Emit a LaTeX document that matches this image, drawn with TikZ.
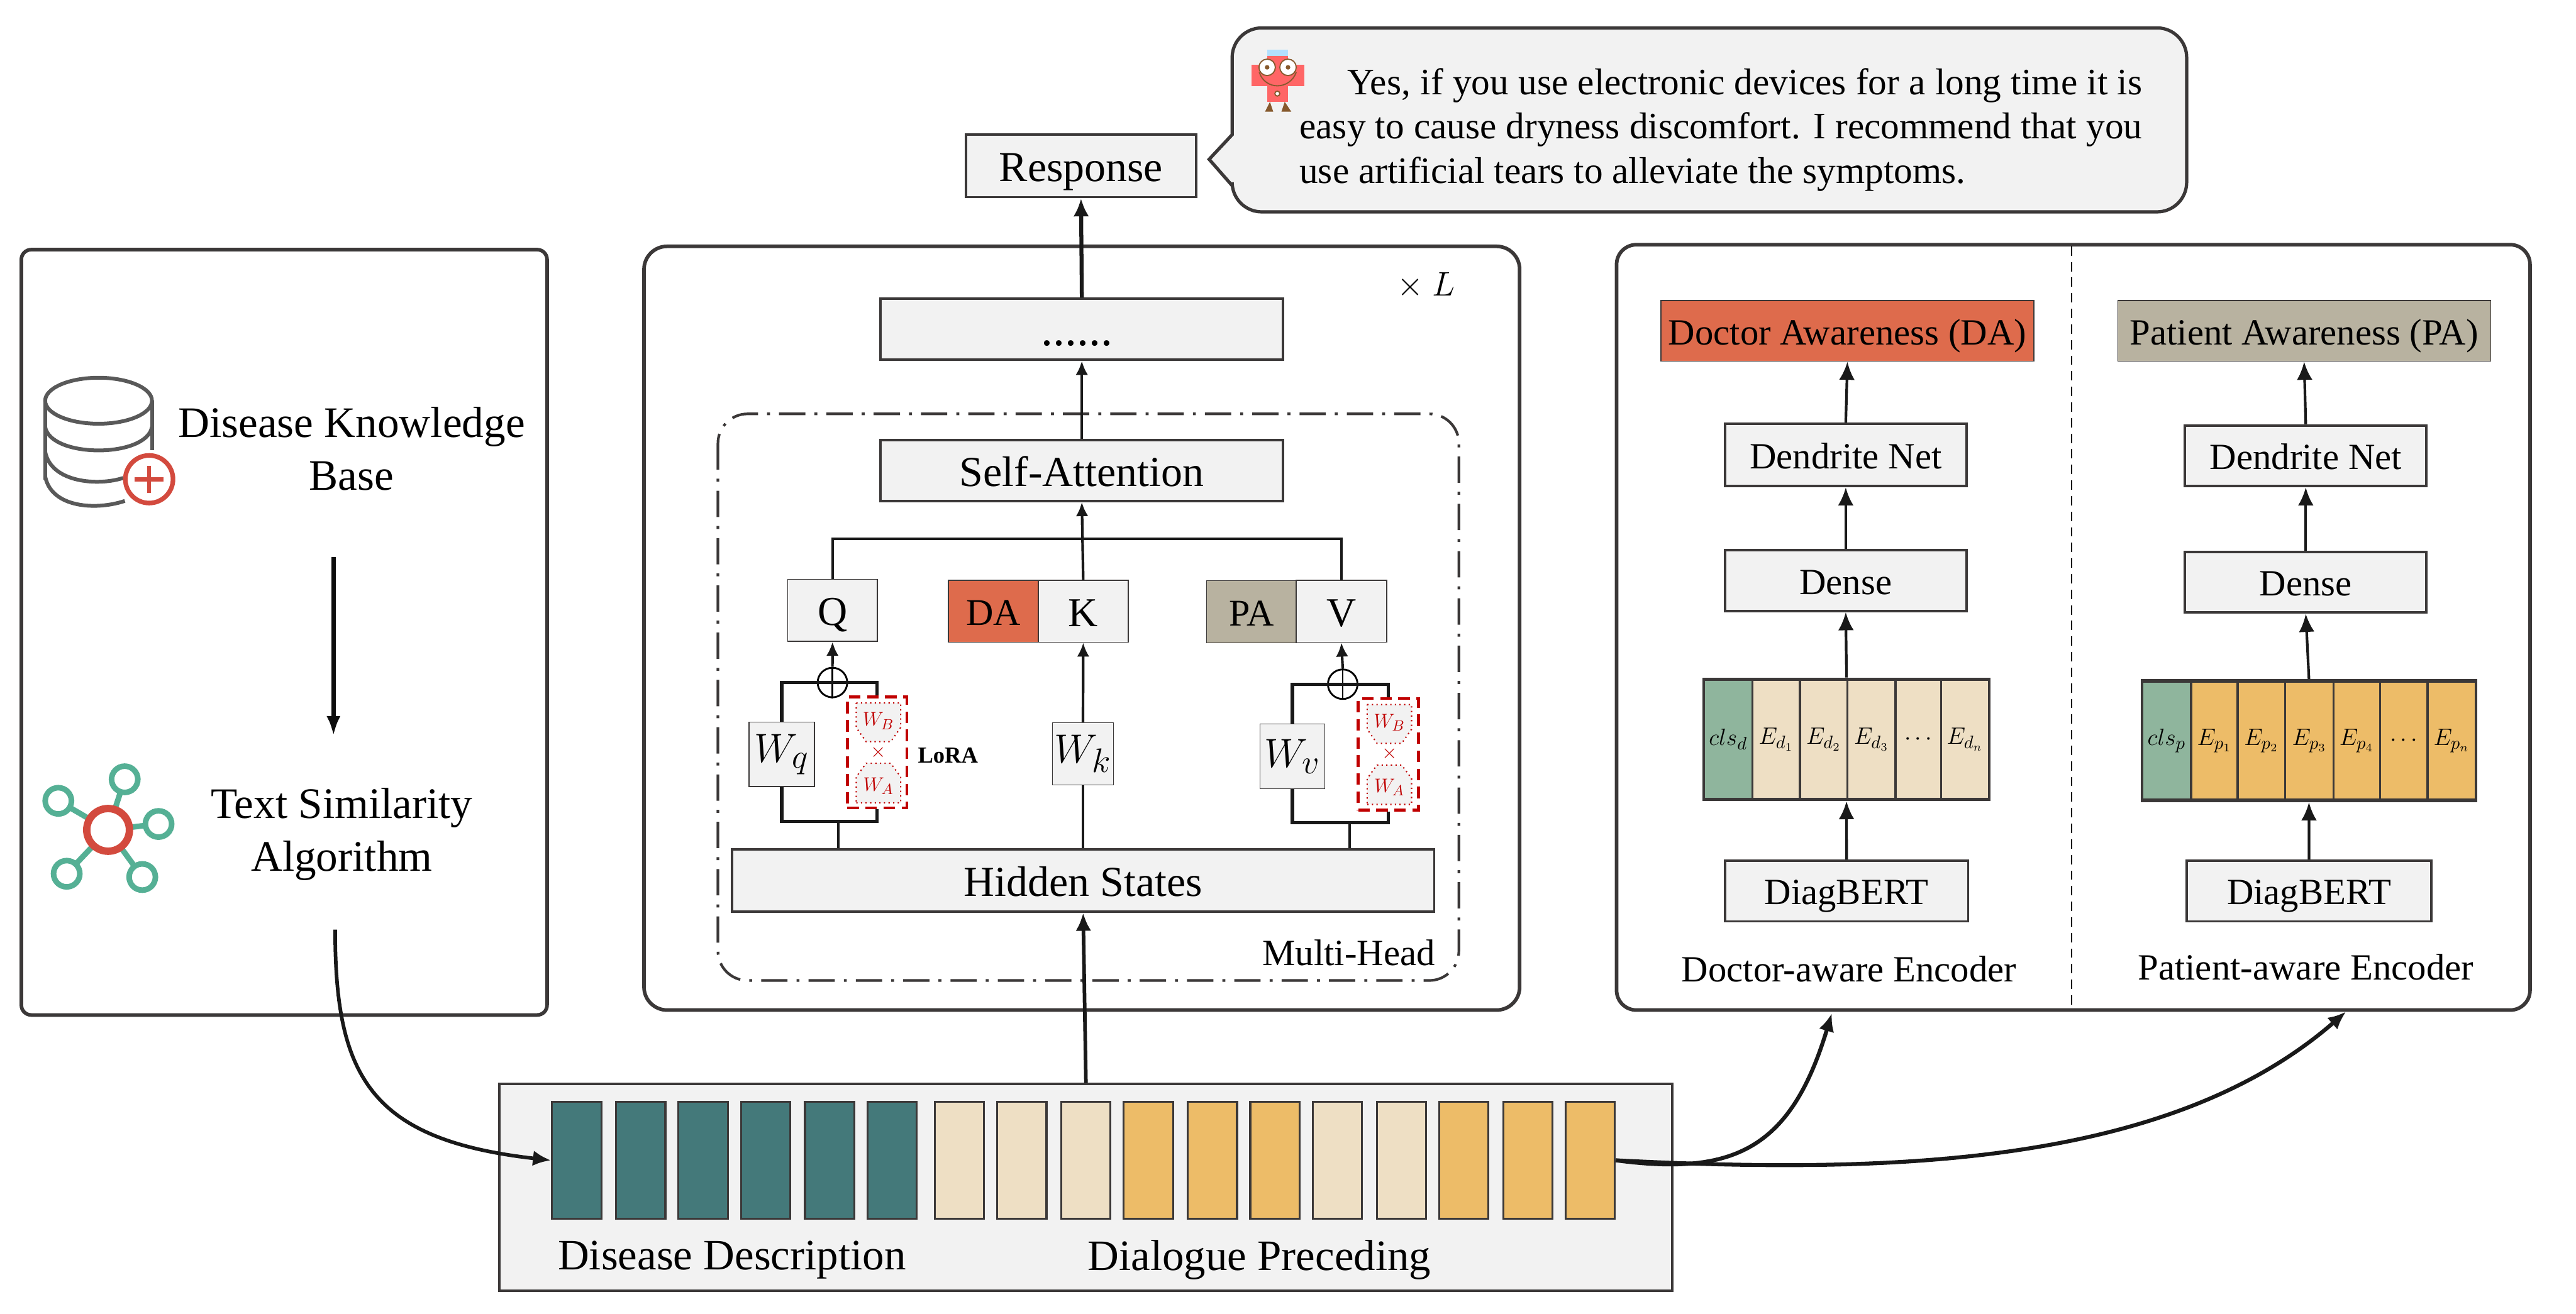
\documentclass[tikz,border=0pt]{standalone}
\usepackage{fontspec}
\setmainfont{Liberation Serif}
\usetikzlibrary{arrows.meta,calc,shapes.misc,positioning}
\definecolor{ln}{HTML}{3B3838}
\definecolor{bg}{HTML}{F2F2F2}
\definecolor{daC}{HTML}{DE6B4C}
\definecolor{paC}{HTML}{B8B2A0}
\definecolor{teal}{HTML}{44797A}
\definecolor{tan}{HTML}{EEDFC4}
\definecolor{org}{HTML}{EDBC68}
\definecolor{grn}{HTML}{8FB59D}
\definecolor{lred}{HTML}{C00000}
\definecolor{icr}{HTML}{D34A3E}
\definecolor{icg}{HTML}{55B095}
\definecolor{icd}{HTML}{595959}
\newcommand{\fs}[1]{\fontsize{#1}{#1}\selectfont}
\newcommand{\cen}[1]{\raisebox{0pt}[0.9em][0.16em]{#1}}
\tikzset{
  panel/.style={draw=ln,line width=2.2pt,fill=white},
  bx/.style={draw=ln,line width=1.5pt,fill=bg,inner sep=0pt,text=black},
  thinbx/.style={draw=ln,line width=0.6pt,fill=bg,inner sep=0pt,text=black},
  tok/.style={draw=ln,line width=1.3pt,inner sep=0pt,text=black},
  seqbar/.style={draw=ln,line width=1.2pt,inner sep=0pt},
  conn/.style={draw=black!90,line width=1.6pt},
  arr/.style={conn,-{Latex[length=8.5pt,width=7.5pt]}},
  arrb/.style={conn,-{Latex[length=11pt,width=9.5pt]}},
  lora/.style={draw=lred,line width=1.7pt,dash pattern=on 7pt off 4pt},
  inner/.style={draw=lred,line width=0.8pt,dotted,fill=bg},
  lab/.style={inner sep=0pt,text=black,align=center},
  oplusnode/.style={circle,draw=black,line width=1.1pt,minimum size=18pt,inner sep=0pt},
}
% \bxn{name}{x1}{y1}{x2}{y2}{style}{text}
\newcommand{\bxn}[7]{%
  \pgfmathsetmacro{\cxv}{(#2+#4)/2}\pgfmathsetmacro{\cyv}{(#3+#5)/2}%
  \pgfmathsetmacro{\wv}{#4-#2}\pgfmathsetmacro{\hv}{#5-#3}%
  \node[#6,minimum width=\wv pt,minimum height=\hv pt] (#1) at (\cxv,\cyv) {#7};}
\begin{document}
\begin{tikzpicture}[x=1pt,y=-1pt]
\useasboundingbox (0,0) rectangle (1568,800);
\fill[white] (0,0) rectangle (1568,800);
% panels
\draw[panel,rounded corners=6pt] (13,152) rectangle (333,618);
\draw[panel,rounded corners=14pt] (392,150) rectangle (925,615);
\draw[panel,rounded corners=12pt] (984,149) rectangle (1540,615);
\draw[draw=ln,line width=1.6pt,dash pattern=on 16pt off 5.5pt on 1.8pt off 5.5pt,rounded corners=18pt] (437,252) rectangle (888,597);
\draw[draw=black,line width=1pt,dash pattern=on 5.7pt off 3.8pt] (1261,150) -- (1261,612);
% left panel
\begin{scope}[draw=icd,line width=2.3pt]
  \draw (60,244) ellipse [x radius=32.5,y radius=14];
  \draw (27.5,244) -- (27.5,292);
  \draw (92.5,244) -- (92.5,274);
  \draw (27.5,260) .. controls (31,279) and (89,279) .. (92.5,260);
  \draw (27.5,275) .. controls (31,294) and (60,296) .. (75,291);
  \draw (27.5,290) .. controls (31,309) and (58,311) .. (76,305);
\end{scope}
\draw[draw=icr,fill=white,line width=2.8pt] (90.8,291.8) circle (14.5);
\draw[draw=icr,line width=2.5pt] (82,291.8) -- (99.6,291.8) (90.8,283.5) -- (90.8,300);
\node[lab] (dkb) at (214,260) {\fs{26.5}Disease Knowledge};
\node[lab] (base) at (214,290) {\fs{26.5}Base};
\node[lab] (tsa) at (208,492) {\fs{26.5}Text Similarity};
\node[lab] (alg) at (208,524) {\fs{26.5}Algorithm};
\coordinate (kbend) at (203,339);
\coordinate (algend) at (203,448);
\draw[line width=2.8pt,draw=black!95,-{Latex[length=12pt,width=8.5pt]}] (kbend) -- (algend);
\begin{scope}[draw=icg,line width=3.4pt]
  \draw (65.8,505.3) -- (75.9,474.5) (65.8,505.3) -- (35.5,487.6) (65.8,505.3) -- (96.5,501.7) (65.8,505.3) -- (40.6,532) (65.8,505.3) -- (86.6,534);
  \foreach \sx/\sy in {75.9/474.5,35.5/487.6,96.5/501.7,40.6/532,86.6/534}
    \draw[fill=white] (\sx,\sy) circle (8);
\end{scope}
\draw[draw=icr,fill=white,line width=4.5pt] (65.8,505.3) circle (13);
% response and bubble
\bxn{resp}{588}{82}{728}{120}{bx}{\fs{26}\cen{Response}}
\draw[draw=ln,line width=2pt,fill=bg,rounded corners=18pt]
  (1000,17) -- (1331,17) -- (1331,129) -- (750,129) [sharp corners] -- (750,113) -- (736,97) -- (750,82) [rounded corners=18pt] -- (750,17) -- cycle;
\node[lab,align=left,font=\fs{22.7}] (ans) at (1047.5,79) {%
  \makebox[513pt][s]{\hspace*{29pt}Yes, if you use electronic devices for a long time it is}\\[4.3pt]
  \makebox[513pt][s]{easy to cause dryness discomfort. I recommend that you}\\[4.3pt]
  \makebox[513pt][l]{use artificial tears to alleviate the symptoms.}};
% robot
\fill[blue!40!cyan!30!white] (771.5,30.3) rectangle (784,35);
\fill[red!60!white] (771.3,34) rectangle (784,62);
\fill[red!60!white] (761.6,39.5) rectangle (793.9,52.5);
\draw[draw=brown!70!black,line width=0.7pt,fill=white] (771.3,41) circle (5) (784,41) circle (5);
\fill[brown!70!black] (771.3,41) circle (1.4) (784,41) circle (1.4);
\draw[draw=brown!70!black,line width=0.7pt] (766.5,44) .. controls (770,55) and (785,55) .. (789,44);
\draw[draw=brown!70!black,line width=0.7pt,fill=white] (777.5,57) circle (1.5);
\fill[brown!70!black] (770,68) -- (773,62) -- (775,68) -- cycle (780,68) -- (782,62) -- (786,68) -- cycle;
% middle column
\bxn{dots}{536}{182}{781}{219}{bx}{\fs{29}\hspace*{-6pt}\raisebox{6.5pt}{\cen{......}}}
\bxn{sa}{536}{268}{781}{305}{bx}{\fs{26}\cen{Self-Attention}}
\bxn{Q}{479.5}{352.7}{534}{390.5}{thinbx}{\fs{25}\cen{Q}}
\bxn{DA}{577.3}{353.3}{632}{391}{draw=ln,line width=0.5pt,fill=daC,inner sep=0pt,text=black}{\fs{23}\cen{DA}}
\bxn{K}{632}{353.3}{686.7}{391}{thinbx}{\fs{25}\cen{K}}
\bxn{PA}{734.4}{353.5}{789}{391.3}{draw=ln,line width=0.5pt,fill=paC,inner sep=0pt,text=black}{\fs{23}\cen{PA}}
\bxn{V}{789}{353.3}{844}{391}{thinbx}{\fs{25}\cen{V}}
\bxn{Wq}{456}{439.7}{495.7}{479}{thinbx}{\fs{28}$W_q$}
\bxn{Wk}{640.6}{440}{677.8}{478}{thinbx}{\fs{28}$W_k$}
\bxn{Wv}{767}{440.8}{806.4}{480.3}{thinbx}{\fs{28}$W_v$}
\bxn{hid}{445.6}{517}{873}{555}{bx}{\fs{26}\cen{Hidden States}}
\node[lab] (mh) at (821,580) {\fs{22.5}Multi-Head};
\node[lab] (times) at (868,174) {\fs{20}$\times\ L$};
% LoRA blocks
\bxn{lorq}{515.8}{424.4}{552}{492}{lora}{}
\bxn{lorv}{826.7}{425.3}{863.4}{493.3}{lora}{}
\foreach \pre/\xa/\xb/\dy in {q/521.2/548.2/0,v/832.2/859.2/1}{
  \pgfmathsetmacro{\xm}{(\xa+\xb)/2}
  \draw[inner] (\xa,428+\dy) -- (\xb,428+\dy) -- (\xb,443+\dy) -- (\xb-6,451.6+\dy) -- (\xa+6,451.6+\dy) -- (\xa,443+\dy) -- cycle;
  \draw[inner] (\xa,488.8+\dy) -- (\xb,488.8+\dy) -- (\xb,473+\dy) -- (\xb-6,464.8+\dy) -- (\xa+6,464.8+\dy) -- (\xa,473+\dy) -- cycle;
  \node[lab,text=lred] (wb\pre) at (\xm,439+\dy) {\fs{13}$W_B$};
  \node[lab,text=lred] (x\pre) at (\xm,458+\dy) {\fs{13}$\times$};
  \node[lab,text=lred] (wa\pre) at (\xm,478.5+\dy) {\fs{13}$W_A$};
}
\node[lab] (loralab) at (577,460) {\fs{14}\textbf{LoRA}};
% oplus
\node[oplusnode] (qp) at (506.7,415.6) {};
\node[oplusnode] (vp) at (817.3,416.6) {};
\draw[line width=1.1pt] (qp.north) -- (qp.south) (vp.north) -- (vp.south);
% connectors middle
\coordinate (qj) at (510.3,500);
\coordinate (vj) at (821.6,501);
\coordinate (bus) at (659,328);
\draw[conn] (hid.north -| qj) -- (qj);
\draw[conn] (hid.north -| vj) -- (vj);
\draw[conn,line width=2pt] (Wq.south) -- (Wq.south |- qj) -- (qj -| lorq.south) -- (lorq.south);
\draw[conn,line width=2pt] (Wv.south) -- (Wv.south |- vj) -- (vj -| lorv.south) -- (lorv.south);
\draw[conn,line width=2pt] (Wq.north) -- (Wq.north |- qp) -- (lorq.north |- qp) -- (lorq.north);
\draw[conn,line width=2pt] (Wv.north) -- (Wv.north |- vp) -- (lorv.north |- vp) -- (lorv.north);
\draw[arr] (qp.north) -- (Q.south);
\draw[arr] (vp.north) -- (V.south);
\draw[conn] (hid.north -| Wk.south) -- (Wk.south);
\draw[arr] (Wk.north) -- (K.south);
\draw[conn] (Q.north) |- (bus) -| (V.north);
\draw[arr] (K.north) -- (sa.south);
\draw[arr] (sa.north) -- (dots.south);
\draw[arrb,line width=2.4pt] (dots.north) -- (resp.south);
% right panel doctor
\bxn{dab}{1011}{183}{1238}{220}{draw=ln,line width=0.5pt,fill=daC,inner sep=0pt,text=black}{\fs{22.5}\cen{Doctor Awareness (DA)}}
\bxn{dn1}{1050}{258}{1197}{296}{bx}{\fs{22.5}\cen{Dendrite Net}}
\bxn{de1}{1050}{335}{1197}{372}{bx}{\fs{22.5}\cen{Dense}}
\bxn{tk1}{1037.3}{413.5}{1210.6}{486.8}{tok,line width=2pt}{}
\bxn{d0}{1037.3}{414}{1066.6}{486.3}{tok,fill=grn}{\fs{15}$cls_d$}
\bxn{d1}{1066.6}{414}{1095.6}{486.3}{tok,fill=tan}{\fs{15}$E_{d_1}$}
\bxn{d2}{1095.6}{414}{1124.5}{486.3}{tok,fill=tan}{\fs{15}$E_{d_2}$}
\bxn{d3}{1124.5}{414}{1153.8}{486.3}{tok,fill=tan}{\fs{15}$E_{d_3}$}
\bxn{d4}{1153.8}{414}{1181.5}{486.3}{tok,fill=tan}{\fs{14}$\cdots$}
\bxn{d5}{1181.5}{414}{1210.6}{486.3}{tok,fill=tan}{\fs{15}$E_{d_n}$}
\bxn{db1}{1050}{524}{1198}{561}{bx}{\fs{22.5}\cen{DiagBERT}}
\node[lab] (enc1) at (1125.5,590) {\fs{22.5}Doctor-aware Encoder};
\draw[arrb] (db1.north) -- (tk1.south);
\draw[arrb] (tk1.north) -- (de1.south);
\draw[arrb] (de1.north) -- (dn1.south);
\draw[arrb] (dn1.north) -- (dab.south);
% right panel patient
\bxn{pab}{1289}{183}{1516}{220}{draw=ln,line width=0.5pt,fill=paC,inner sep=0pt,text=black}{\fs{22.5}\cen{Patient Awareness (PA)}}
\bxn{dn2}{1330}{259}{1477}{296}{bx}{\fs{22.5}\cen{Dendrite Net}}
\bxn{de2}{1330}{336}{1477}{373}{bx}{\fs{22.5}\cen{Dense}}
\bxn{tk2}{1303.9}{414.5}{1507}{487.5}{tok,line width=2pt}{}
\bxn{p0}{1303.9}{415}{1333.7}{487}{tok,fill=grn}{\fs{15}$cls_p$}
\bxn{p1}{1333.7}{415}{1362}{487}{tok,fill=org}{\fs{15}$E_{p_1}$}
\bxn{p2}{1362}{415}{1391}{487}{tok,fill=org}{\fs{15}$E_{p_2}$}
\bxn{p3}{1391}{415}{1420.3}{487}{tok,fill=org}{\fs{15}$E_{p_3}$}
\bxn{p4}{1420.3}{415}{1448.7}{487}{tok,fill=org}{\fs{15}$E_{p_4}$}
\bxn{p5}{1448.7}{415}{1477.6}{487}{tok,fill=org}{\fs{14}$\cdots$}
\bxn{p6}{1477.6}{415}{1507}{487}{tok,fill=org}{\fs{15}$E_{p_n}$}
\bxn{db2}{1331}{524}{1480}{561}{bx}{\fs{22.5}\cen{DiagBERT}}
\node[lab] (enc2) at (1403.5,589) {\fs{22.5}Patient-aware Encoder};
\draw[arrb] (db2.north) -- (tk2.south);
\draw[arrb] (tk2.north) -- (de2.south);
\draw[arrb] (de2.north) -- (dn2.south);
\draw[arrb] (dn2.north) -- (pab.south);
% sequence panel
\bxn{seq}{304}{660}{1018}{786}{bx}{}
\foreach \i/\xa/\c in {1/336/teal,2/375/teal,3/413/teal,4/451/teal,5/490/teal,6/528/teal,7/569/tan,8/607/tan,9/646/tan,10/684/org,11/723/org,12/761/org,13/799/tan,14/838/tan,15/876/org,16/915/org,17/953/org}{
  \pgfmathsetmacro{\xb}{\xa+30}
  \bxn{s\i}{\xa}{671}{\xb}{742}{seqbar,fill=\c}{}
}
\node[lab] (dd) at (445.5,767) {\fs{26.4}Disease Description};
\node[lab] (dp) at (766.5,767) {\fs{26.4}Dialogue Preceding};
% long connectors
\coordinate (algout) at (204,566);
\coordinate (enc1in) at (1115,617);
\coordinate (enc2in) at (1428,616);
\draw[arrb,line width=2.2pt] (algout) .. controls (204,655) and (225,694) .. (s1.west);
\draw[arrb,line width=2.4pt] (s17.east) .. controls (1055,716) and (1090,700) .. (enc1in);
\draw[arrb,line width=2.4pt] (s17.east) .. controls (1150,715) and (1320,710) .. (enc2in);
\draw[arrb,line width=2.2pt] (seq.north) -- (hid.south);
\end{tikzpicture}
\end{document}
